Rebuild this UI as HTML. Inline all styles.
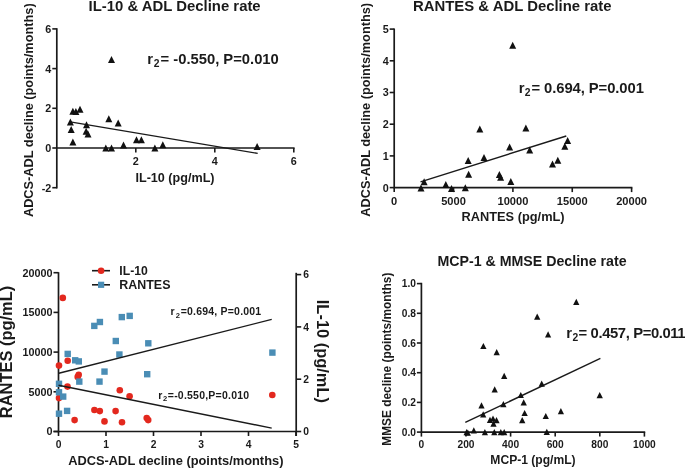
<!DOCTYPE html>
<html><head><meta charset="utf-8"><style>
html,body{margin:0;padding:0;background:#fff;}
svg{display:block;will-change:transform;}
</style></head><body>
<svg width="685" height="468" viewBox="0 0 685 468" font-family="Liberation Sans, sans-serif" font-weight="bold" fill="#1a1a1a">
<rect width="685" height="468" fill="#fff"/>
<line x1="56.8" y1="28.2" x2="56.8" y2="188.5" stroke="#1a1a1a" stroke-width="1.7"/>
<line x1="52.3" y1="28.89999999999999" x2="56.8" y2="28.89999999999999" stroke="#1a1a1a" stroke-width="1.6"/>
<text x="51.3" y="32.79999999999999" font-size="10.8" text-anchor="end" >6</text>
<line x1="52.3" y1="68.6" x2="56.8" y2="68.6" stroke="#1a1a1a" stroke-width="1.6"/>
<text x="51.3" y="72.5" font-size="10.8" text-anchor="end" >4</text>
<line x1="52.3" y1="108.3" x2="56.8" y2="108.3" stroke="#1a1a1a" stroke-width="1.6"/>
<text x="51.3" y="112.2" font-size="10.8" text-anchor="end" >2</text>
<line x1="52.3" y1="148.0" x2="56.8" y2="148.0" stroke="#1a1a1a" stroke-width="1.6"/>
<text x="51.3" y="151.9" font-size="10.8" text-anchor="end" >0</text>
<line x1="52.3" y1="187.7" x2="56.8" y2="187.7" stroke="#1a1a1a" stroke-width="1.6"/>
<text x="51.3" y="191.6" font-size="10.8" text-anchor="end" >-2</text>
<line x1="56.8" y1="148.0" x2="294.6" y2="148.0" stroke="#1a1a1a" stroke-width="1.7"/>
<line x1="135.8" y1="148.0" x2="135.8" y2="152.5" stroke="#1a1a1a" stroke-width="1.6"/>
<text x="135.8" y="164.5" font-size="10.8" text-anchor="middle" >2</text>
<line x1="214.8" y1="148.0" x2="214.8" y2="152.5" stroke="#1a1a1a" stroke-width="1.6"/>
<text x="214.8" y="164.5" font-size="10.8" text-anchor="middle" >4</text>
<line x1="293.8" y1="148.0" x2="293.8" y2="152.5" stroke="#1a1a1a" stroke-width="1.6"/>
<text x="293.8" y="164.5" font-size="10.8" text-anchor="middle" >6</text>
<line x1="70.2" y1="121.9" x2="257.7" y2="153.4" stroke="#1a1a1a" stroke-width="1.4"/>
<path d="M72.9 107.7L76.4 114.7L69.4 114.7Z" fill="#111"/>
<path d="M75.9 108.0L79.4 115.0L72.4 115.0Z" fill="#111"/>
<path d="M80.0 105.7L83.5 112.7L76.5 112.7Z" fill="#111"/>
<path d="M70.4 118.6L73.9 125.6L66.9 125.6Z" fill="#111"/>
<path d="M71.2 125.9L74.7 132.9L67.7 132.9Z" fill="#111"/>
<path d="M72.9 138.6L76.4 145.6L69.4 145.6Z" fill="#111"/>
<path d="M86.5 121.2L90.0 128.2L83.0 128.2Z" fill="#111"/>
<path d="M86.1 127.7L89.6 134.7L82.6 134.7Z" fill="#111"/>
<path d="M88.0 130.6L91.5 137.6L84.5 137.6Z" fill="#111"/>
<path d="M108.8 115.3L112.3 122.3L105.3 122.3Z" fill="#111"/>
<path d="M118.2 119.4L121.7 126.4L114.7 126.4Z" fill="#111"/>
<path d="M105.8 144.5L109.3 151.5L102.3 151.5Z" fill="#111"/>
<path d="M111.5 144.5L115.0 151.5L108.0 151.5Z" fill="#111"/>
<path d="M123.5 141.5L127.0 148.5L120.0 148.5Z" fill="#111"/>
<path d="M136.5 136.3L140.0 143.3L133.0 143.3Z" fill="#111"/>
<path d="M141.4 136.3L144.9 143.3L137.9 143.3Z" fill="#111"/>
<path d="M154.9 144.5L158.4 151.5L151.4 151.5Z" fill="#111"/>
<path d="M162.8 141.2L166.3 148.2L159.3 148.2Z" fill="#111"/>
<path d="M257.1 143.0L260.6 150.0L253.6 150.0Z" fill="#111"/>
<path d="M111.5 56.0L115.0 63.0L108.0 63.0Z" fill="#111"/>
<text x="147.3" y="63.8" font-size="14.8">r</text>
<text x="153.7" y="66.7" font-size="10.3">2</text>
<text x="160.6" y="63.8" font-size="14.8" textLength="118.2" lengthAdjust="spacing">= -0.550, P=0.010</text>
<text x="174.6" y="10.5" font-size="14.9" text-anchor="middle" >IL-10 &amp; ADL Decline rate</text>
<text x="175" y="182.3" font-size="12.6" text-anchor="middle" >IL-10 (pg/mL)</text>
<text transform="translate(33.1,110.2) rotate(-90)" font-size="12.75" text-anchor="middle">ADCS-ADL decline (points/months)</text>
<line x1="394.2" y1="28.5" x2="394.2" y2="188.4" stroke="#1a1a1a" stroke-width="1.7"/>
<line x1="389.7" y1="29.099999999999994" x2="394.2" y2="29.099999999999994" stroke="#1a1a1a" stroke-width="1.6"/>
<text x="388.7" y="32.99999999999999" font-size="10.8" text-anchor="end" >5</text>
<line x1="389.7" y1="60.8" x2="394.2" y2="60.8" stroke="#1a1a1a" stroke-width="1.6"/>
<text x="388.7" y="64.7" font-size="10.8" text-anchor="end" >4</text>
<line x1="389.7" y1="92.5" x2="394.2" y2="92.5" stroke="#1a1a1a" stroke-width="1.6"/>
<text x="388.7" y="96.4" font-size="10.8" text-anchor="end" >3</text>
<line x1="389.7" y1="124.19999999999999" x2="394.2" y2="124.19999999999999" stroke="#1a1a1a" stroke-width="1.6"/>
<text x="388.7" y="128.1" font-size="10.8" text-anchor="end" >2</text>
<line x1="389.7" y1="155.9" x2="394.2" y2="155.9" stroke="#1a1a1a" stroke-width="1.6"/>
<text x="388.7" y="159.8" font-size="10.8" text-anchor="end" >1</text>
<line x1="389.7" y1="187.6" x2="394.2" y2="187.6" stroke="#1a1a1a" stroke-width="1.6"/>
<text x="388.7" y="191.5" font-size="10.8" text-anchor="end" >0</text>
<line x1="394.2" y1="187.6" x2="632.3999999999999" y2="187.6" stroke="#1a1a1a" stroke-width="1.7"/>
<line x1="394.2" y1="187.6" x2="394.2" y2="192.1" stroke="#1a1a1a" stroke-width="1.6"/>
<text x="394.2" y="204.79999999999998" font-size="11.1" text-anchor="middle" >0</text>
<line x1="453.54999999999995" y1="187.6" x2="453.54999999999995" y2="192.1" stroke="#1a1a1a" stroke-width="1.6"/>
<text x="453.54999999999995" y="204.79999999999998" font-size="11.1" text-anchor="middle" >5000</text>
<line x1="512.9" y1="187.6" x2="512.9" y2="192.1" stroke="#1a1a1a" stroke-width="1.6"/>
<text x="512.9" y="204.79999999999998" font-size="11.1" text-anchor="middle" >10000</text>
<line x1="572.25" y1="187.6" x2="572.25" y2="192.1" stroke="#1a1a1a" stroke-width="1.6"/>
<text x="572.25" y="204.79999999999998" font-size="11.1" text-anchor="middle" >15000</text>
<line x1="631.5999999999999" y1="187.6" x2="631.5999999999999" y2="192.1" stroke="#1a1a1a" stroke-width="1.6"/>
<text x="631.5999999999999" y="204.79999999999998" font-size="11.1" text-anchor="middle" >20000</text>
<line x1="420.5" y1="181.9" x2="566.3" y2="136" stroke="#1a1a1a" stroke-width="1.4"/>
<path d="M421.0 184.4L424.5 191.4L417.5 191.4Z" fill="#111"/>
<path d="M424.1 178.3L427.6 185.3L420.6 185.3Z" fill="#111"/>
<path d="M445.8 181.1L449.3 188.1L442.3 188.1Z" fill="#111"/>
<path d="M451.5 184.9L455.0 191.9L448.0 191.9Z" fill="#111"/>
<path d="M465.3 184.2L468.8 191.2L461.8 191.2Z" fill="#111"/>
<path d="M468.2 157.0L471.7 164.0L464.7 164.0Z" fill="#111"/>
<path d="M468.6 170.7L472.1 177.7L465.1 177.7Z" fill="#111"/>
<path d="M479.8 125.5L483.3 132.5L476.3 132.5Z" fill="#111"/>
<path d="M484.0 153.9L487.5 160.9L480.5 160.9Z" fill="#111"/>
<path d="M499.4 171.1L502.9 178.1L495.9 178.1Z" fill="#111"/>
<path d="M500.6 173.7L504.1 180.7L497.1 180.7Z" fill="#111"/>
<path d="M510.8 178.1L514.3 185.1L507.3 185.1Z" fill="#111"/>
<path d="M509.6 143.6L513.1 150.6L506.1 150.6Z" fill="#111"/>
<path d="M525.9 124.6L529.4 131.6L522.4 131.6Z" fill="#111"/>
<path d="M529.7 146.5L533.2 153.5L526.2 153.5Z" fill="#111"/>
<path d="M552.5 160.6L556.0 167.6L549.0 167.6Z" fill="#111"/>
<path d="M557.8 156.7L561.3 163.7L554.3 163.7Z" fill="#111"/>
<path d="M564.8 142.7L568.3 149.7L561.3 149.7Z" fill="#111"/>
<path d="M567.6 136.9L571.1 143.9L564.1 143.9Z" fill="#111"/>
<path d="M512.7 41.8L516.2 48.8L509.2 48.8Z" fill="#111"/>
<text x="518.7" y="92.6" font-size="14.8">r</text>
<text x="524.8" y="95.7" font-size="10.3">2</text>
<text x="531.5" y="92.6" font-size="14.8" textLength="112.4" lengthAdjust="spacing">= 0.694, P=0.001</text>
<text x="512.3" y="10.5" font-size="14.9" text-anchor="middle" >RANTES &amp; ADL Decline rate</text>
<text x="513.1" y="221.3" font-size="12.8" text-anchor="middle" >RANTES (pg/mL)</text>
<text transform="translate(370.2,109.8) rotate(-90)" font-size="12.75" text-anchor="middle">ADCS-ADL decline (points/months)</text>
<line x1="58.5" y1="272.2" x2="58.5" y2="432.3" stroke="#1a1a1a" stroke-width="1.7"/>
<line x1="53.5" y1="431.5" x2="58.5" y2="431.5" stroke="#1a1a1a" stroke-width="1.6"/>
<text x="52.5" y="435.3" font-size="10.8" text-anchor="end" >0</text>
<line x1="53.5" y1="391.8" x2="58.5" y2="391.8" stroke="#1a1a1a" stroke-width="1.6"/>
<text x="52.5" y="395.6" font-size="10.8" text-anchor="end" >5000</text>
<line x1="53.5" y1="352.1" x2="58.5" y2="352.1" stroke="#1a1a1a" stroke-width="1.6"/>
<text x="52.5" y="355.90000000000003" font-size="10.8" text-anchor="end" >10000</text>
<line x1="53.5" y1="312.4" x2="58.5" y2="312.4" stroke="#1a1a1a" stroke-width="1.6"/>
<text x="52.5" y="316.2" font-size="10.8" text-anchor="end" >15000</text>
<line x1="53.5" y1="272.7" x2="58.5" y2="272.7" stroke="#1a1a1a" stroke-width="1.6"/>
<text x="52.5" y="276.5" font-size="10.8" text-anchor="end" >20000</text>
<line x1="53.5" y1="431.5" x2="296.2" y2="431.5" stroke="#1a1a1a" stroke-width="1.7"/>
<line x1="58.5" y1="431.5" x2="58.5" y2="436.0" stroke="#1a1a1a" stroke-width="1.6"/>
<text x="58.5" y="447.8" font-size="10.3" text-anchor="middle" >0</text>
<line x1="106.0" y1="431.5" x2="106.0" y2="436.0" stroke="#1a1a1a" stroke-width="1.6"/>
<text x="106.0" y="447.8" font-size="10.3" text-anchor="middle" >1</text>
<line x1="153.5" y1="431.5" x2="153.5" y2="436.0" stroke="#1a1a1a" stroke-width="1.6"/>
<text x="153.5" y="447.8" font-size="10.3" text-anchor="middle" >2</text>
<line x1="201.0" y1="431.5" x2="201.0" y2="436.0" stroke="#1a1a1a" stroke-width="1.6"/>
<text x="201.0" y="447.8" font-size="10.3" text-anchor="middle" >3</text>
<line x1="248.5" y1="431.5" x2="248.5" y2="436.0" stroke="#1a1a1a" stroke-width="1.6"/>
<text x="248.5" y="447.8" font-size="10.3" text-anchor="middle" >4</text>
<line x1="296.0" y1="431.5" x2="296.0" y2="436.0" stroke="#1a1a1a" stroke-width="1.6"/>
<text x="296.0" y="447.8" font-size="10.3" text-anchor="middle" >5</text>
<line x1="296.2" y1="272.8" x2="296.2" y2="436.0" stroke="#1a1a1a" stroke-width="1.7"/>
<line x1="296.2" y1="274.6" x2="301.2" y2="274.6" stroke="#1a1a1a" stroke-width="1.6"/>
<text x="303.2" y="278.20000000000005" font-size="10.3" text-anchor="start" >6</text>
<line x1="296.2" y1="326.9" x2="301.2" y2="326.9" stroke="#1a1a1a" stroke-width="1.6"/>
<text x="303.2" y="330.5" font-size="10.3" text-anchor="start" >4</text>
<line x1="296.2" y1="379.2" x2="301.2" y2="379.2" stroke="#1a1a1a" stroke-width="1.6"/>
<text x="303.2" y="382.8" font-size="10.3" text-anchor="start" >2</text>
<line x1="296.2" y1="431.5" x2="301.2" y2="431.5" stroke="#1a1a1a" stroke-width="1.6"/>
<text x="303.2" y="435.1" font-size="10.3" text-anchor="start" >0</text>
<line x1="92" y1="270.7" x2="110" y2="270.7" stroke="#1a1a1a" stroke-width="1.6"/>
<circle cx="101.1" cy="270.7" r="3.3" fill="#e3281e"/>
<line x1="92" y1="284.8" x2="110" y2="284.8" stroke="#1a1a1a" stroke-width="1.6"/>
<rect x="98.0" y="281.7" width="6.2" height="6.2" fill="#4a8db5"/>
<text x="119.3" y="274.6" font-size="12.2" text-anchor="start" >IL-10</text>
<text x="119.3" y="288.6" font-size="12.45" text-anchor="start" >RANTES</text>
<circle cx="62.8" cy="297.9" r="3.3" fill="#e3281e"/>
<circle cx="67.7" cy="360.7" r="3.3" fill="#e3281e"/>
<circle cx="59" cy="365.6" r="3.3" fill="#e3281e"/>
<circle cx="78.7" cy="374.8" r="3.3" fill="#e3281e"/>
<circle cx="77.7" cy="376.9" r="3.3" fill="#e3281e"/>
<circle cx="67.5" cy="386.6" r="3.3" fill="#e3281e"/>
<circle cx="59" cy="398.1" r="3.3" fill="#e3281e"/>
<circle cx="119.8" cy="390.2" r="3.3" fill="#e3281e"/>
<circle cx="129.6" cy="396.2" r="3.3" fill="#e3281e"/>
<circle cx="94.4" cy="410" r="3.3" fill="#e3281e"/>
<circle cx="99.8" cy="411.1" r="3.3" fill="#e3281e"/>
<circle cx="115.6" cy="411.1" r="3.3" fill="#e3281e"/>
<circle cx="74.6" cy="420.1" r="3.3" fill="#e3281e"/>
<circle cx="104.5" cy="421.4" r="3.3" fill="#e3281e"/>
<circle cx="122" cy="422.2" r="3.3" fill="#e3281e"/>
<circle cx="146.7" cy="418" r="3.3" fill="#e3281e"/>
<circle cx="148.2" cy="420.1" r="3.3" fill="#e3281e"/>
<circle cx="272.3" cy="395" r="3.3" fill="#e3281e"/>
<rect x="91.1" y="322.7" width="6.4" height="6.4" fill="#4a8db5"/>
<rect x="96.7" y="318.8" width="6.4" height="6.4" fill="#4a8db5"/>
<rect x="118.6" y="313.9" width="6.4" height="6.4" fill="#4a8db5"/>
<rect x="126.5" y="312.7" width="6.4" height="6.4" fill="#4a8db5"/>
<rect x="112.6" y="337.8" width="6.4" height="6.4" fill="#4a8db5"/>
<rect x="145.1" y="340.1" width="6.4" height="6.4" fill="#4a8db5"/>
<rect x="116.2" y="351.3" width="6.4" height="6.4" fill="#4a8db5"/>
<rect x="64.5" y="350.7" width="6.4" height="6.4" fill="#4a8db5"/>
<rect x="72.0" y="357.1" width="6.4" height="6.4" fill="#4a8db5"/>
<rect x="75.6" y="358.2" width="6.4" height="6.4" fill="#4a8db5"/>
<rect x="101.3" y="368.4" width="6.4" height="6.4" fill="#4a8db5"/>
<rect x="76.1" y="378.4" width="6.4" height="6.4" fill="#4a8db5"/>
<rect x="96.3" y="378.4" width="6.4" height="6.4" fill="#4a8db5"/>
<rect x="144.0" y="371.0" width="6.4" height="6.4" fill="#4a8db5"/>
<rect x="55.8" y="380.6" width="6.4" height="6.4" fill="#4a8db5"/>
<rect x="55.8" y="389.1" width="6.4" height="6.4" fill="#4a8db5"/>
<rect x="60.0" y="393.4" width="6.4" height="6.4" fill="#4a8db5"/>
<rect x="63.9" y="407.7" width="6.4" height="6.4" fill="#4a8db5"/>
<rect x="55.8" y="410.5" width="6.4" height="6.4" fill="#4a8db5"/>
<rect x="269.2" y="349.4" width="6.4" height="6.4" fill="#4a8db5"/>
<line x1="58.8" y1="373.3" x2="271.7" y2="319.4" stroke="#1a1a1a" stroke-width="1.4"/>
<line x1="58.5" y1="385.3" x2="271.7" y2="428.1" stroke="#1a1a1a" stroke-width="1.4"/>
<text x="170.6" y="315.2" font-size="10.5">r</text>
<text x="175.7" y="317.5" font-size="7.6">2</text>
<text x="180.7" y="315.2" font-size="10.5" textLength="80.5" lengthAdjust="spacing">=0.694, P=0.001</text>
<text x="158.2" y="398.7" font-size="10.5">r</text>
<text x="163" y="401.2" font-size="7.6">2</text>
<text x="167.8" y="398.7" font-size="10.5" textLength="81.3" lengthAdjust="spacing">=-0.550,P=0.010</text>
<text x="175.8" y="465.4" font-size="12.85" text-anchor="middle" >ADCS-ADL decline (points/months)</text>
<text transform="translate(12.0,352.0) rotate(-90)" font-size="16.45" text-anchor="middle">RANTES (pg/mL)</text>
<text transform="translate(316.7,351.4) rotate(90)" font-size="16.45" text-anchor="middle">IL-10 (pg/mL)</text>
<line x1="421.4" y1="282.8" x2="421.4" y2="432.90000000000003" stroke="#1a1a1a" stroke-width="1.7"/>
<line x1="416.9" y1="283.6" x2="421.4" y2="283.6" stroke="#1a1a1a" stroke-width="1.6"/>
<text x="415.9" y="287.20000000000005" font-size="10.2" text-anchor="end" >1.0</text>
<line x1="416.9" y1="313.3" x2="421.4" y2="313.3" stroke="#1a1a1a" stroke-width="1.6"/>
<text x="415.9" y="316.90000000000003" font-size="10.2" text-anchor="end" >0.8</text>
<line x1="416.9" y1="343.0" x2="421.4" y2="343.0" stroke="#1a1a1a" stroke-width="1.6"/>
<text x="415.9" y="346.6" font-size="10.2" text-anchor="end" >0.6</text>
<line x1="416.9" y1="372.70000000000005" x2="421.4" y2="372.70000000000005" stroke="#1a1a1a" stroke-width="1.6"/>
<text x="415.9" y="376.30000000000007" font-size="10.2" text-anchor="end" >0.4</text>
<line x1="416.9" y1="402.40000000000003" x2="421.4" y2="402.40000000000003" stroke="#1a1a1a" stroke-width="1.6"/>
<text x="415.9" y="406.00000000000006" font-size="10.2" text-anchor="end" >0.2</text>
<line x1="416.9" y1="432.1" x2="421.4" y2="432.1" stroke="#1a1a1a" stroke-width="1.6"/>
<text x="415.9" y="435.70000000000005" font-size="10.2" text-anchor="end" >0.0</text>
<line x1="421.4" y1="432.1" x2="645.1999999999999" y2="432.1" stroke="#1a1a1a" stroke-width="1.7"/>
<line x1="421.4" y1="432.1" x2="421.4" y2="436.6" stroke="#1a1a1a" stroke-width="1.6"/>
<text x="421.4" y="447.90000000000003" font-size="10.2" text-anchor="middle" >0</text>
<line x1="466.0" y1="432.1" x2="466.0" y2="436.6" stroke="#1a1a1a" stroke-width="1.6"/>
<text x="466.0" y="447.90000000000003" font-size="10.2" text-anchor="middle" >200</text>
<line x1="510.59999999999997" y1="432.1" x2="510.59999999999997" y2="436.6" stroke="#1a1a1a" stroke-width="1.6"/>
<text x="510.59999999999997" y="447.90000000000003" font-size="10.2" text-anchor="middle" >400</text>
<line x1="555.2" y1="432.1" x2="555.2" y2="436.6" stroke="#1a1a1a" stroke-width="1.6"/>
<text x="555.2" y="447.90000000000003" font-size="10.2" text-anchor="middle" >600</text>
<line x1="599.8" y1="432.1" x2="599.8" y2="436.6" stroke="#1a1a1a" stroke-width="1.6"/>
<text x="599.8" y="447.90000000000003" font-size="10.2" text-anchor="middle" >800</text>
<line x1="644.4" y1="432.1" x2="644.4" y2="436.6" stroke="#1a1a1a" stroke-width="1.6"/>
<text x="644.4" y="447.90000000000003" font-size="10.2" text-anchor="middle" >1000</text>
<line x1="465.3" y1="422.4" x2="600.4" y2="358.3" stroke="#1a1a1a" stroke-width="1.4"/>
<path d="M466.6 429.0L469.8 435.2L463.5 435.2Z" fill="#111"/>
<path d="M467.8 429.5L470.9 435.8L464.7 435.8Z" fill="#111"/>
<path d="M473.8 427.2L476.9 433.5L470.7 433.5Z" fill="#111"/>
<path d="M484.9 429.0L488.0 435.2L481.8 435.2Z" fill="#111"/>
<path d="M494.3 429.0L497.4 435.2L491.2 435.2Z" fill="#111"/>
<path d="M500.8 429.0L503.9 435.2L497.7 435.2Z" fill="#111"/>
<path d="M504.2 429.0L507.3 435.2L501.1 435.2Z" fill="#111"/>
<path d="M481.5 402.2L484.6 408.4L478.4 408.4Z" fill="#111"/>
<path d="M483.2 411.2L486.3 417.5L480.1 417.5Z" fill="#111"/>
<path d="M490.0 416.7L493.1 422.9L486.9 422.9Z" fill="#111"/>
<path d="M493.0 415.4L496.1 421.6L489.9 421.6Z" fill="#111"/>
<path d="M496.5 417.1L499.6 423.3L493.4 423.3Z" fill="#111"/>
<path d="M493.5 420.5L496.6 426.8L490.4 426.8Z" fill="#111"/>
<path d="M494.7 386.2L497.8 392.5L491.6 392.5Z" fill="#111"/>
<path d="M504.2 372.8L507.3 379.0L501.1 379.0Z" fill="#111"/>
<path d="M503.4 401.0L506.5 407.2L500.2 407.2Z" fill="#111"/>
<path d="M520.8 391.9L523.9 398.1L517.6 398.1Z" fill="#111"/>
<path d="M523.7 399.2L526.9 405.5L520.6 405.5Z" fill="#111"/>
<path d="M524.6 409.9L527.8 416.1L521.5 416.1Z" fill="#111"/>
<path d="M522.2 417.1L525.4 423.3L519.1 423.3Z" fill="#111"/>
<path d="M576.3 298.8L579.4 305.0L573.1 305.0Z" fill="#111"/>
<path d="M537.2 313.5L540.4 319.8L534.1 319.8Z" fill="#111"/>
<path d="M548.1 331.2L551.2 337.4L545.0 337.4Z" fill="#111"/>
<path d="M541.7 380.5L544.9 386.8L538.6 386.8Z" fill="#111"/>
<path d="M599.7 392.1L602.9 398.3L596.6 398.3Z" fill="#111"/>
<path d="M560.9 408.1L564.0 414.3L557.8 414.3Z" fill="#111"/>
<path d="M545.8 412.9L548.9 419.1L542.6 419.1Z" fill="#111"/>
<path d="M546.8 428.7L549.9 434.9L543.6 434.9Z" fill="#111"/>
<path d="M483.4 342.9L486.5 349.1L480.2 349.1Z" fill="#111"/>
<path d="M496.7 349.0L499.8 355.2L493.6 355.2Z" fill="#111"/>
<text x="566.2" y="337.6" font-size="14.8">r</text>
<text x="572.4" y="340.6" font-size="10.3">2</text>
<text x="578.6" y="337.6" font-size="14.8" textLength="107" lengthAdjust="spacing">= 0.457, P=0.011</text>
<text x="532.0" y="265.9" font-size="14.2" text-anchor="middle" >MCP-1 &amp; MMSE Decline rate</text>
<text x="533" y="463.9" font-size="12.1" text-anchor="middle" >MCP-1 (pg/mL)</text>
<text transform="translate(391,359.2) rotate(-90)" font-size="11.9" text-anchor="middle">MMSE decline (points/months)</text>
</svg>
</body></html>
